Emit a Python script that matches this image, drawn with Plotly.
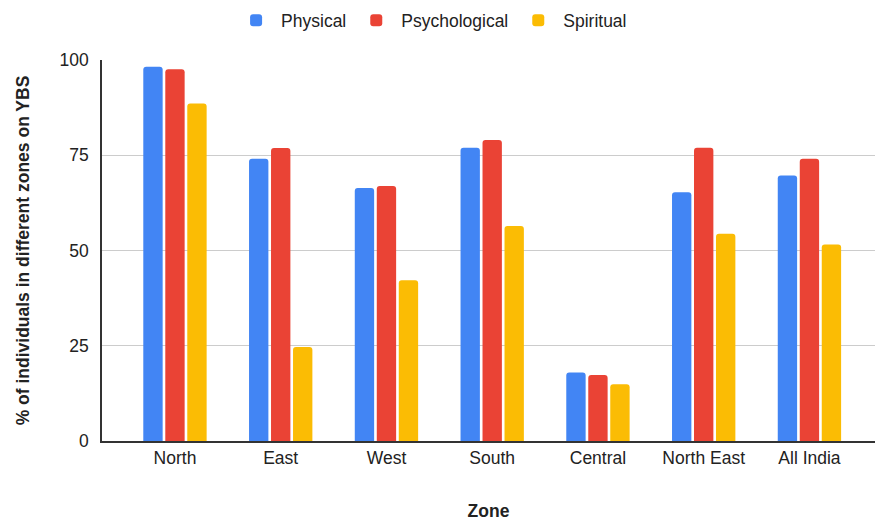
import plotly.graph_objects as go

zones = ["North", "East", "West", "South", "Central", "North East", "All India"]
physical = [98.2, 74.1, 66.4, 77.0, 18.0, 65.3, 69.7]
psychological = [97.6, 76.9, 66.9, 79.0, 17.3, 77.0, 74.1]
spiritual = [88.6, 24.7, 42.2, 56.4, 14.9, 54.4, 51.6]

series = [
    ("Physical", physical, "#4285F4"),
    ("Psychological", psychological, "#EA4335"),
    ("Spiritual", spiritual, "#FBBC04"),
]

font_family = "Liberation Sans, Arial, sans-serif"
fs = 17.5

fig = go.Figure()
for name, vals, color in series:
    fig.add_trace(go.Bar(
        x=zones, y=vals, name=name,
        marker=dict(color=color, line=dict(width=0), cornerradius=3),
    ))

fig.update_layout(
    width=877, height=522,
    margin=dict(l=102, r=2, t=57, b=81),
    paper_bgcolor="white", plot_bgcolor="white",
    barmode="group", bargap=0.376, bargroupgap=0.12,
    font=dict(family=font_family, size=fs, color="#222222"),
    legend=dict(
        orientation="h", x=0.167, xanchor="left", y=1.104, yanchor="middle",
        font=dict(size=fs, color="#222222"), itemwidth=40,
    ),
    xaxis=dict(
        range=[-0.69, 6.62],
        showline=True, linecolor="#333333", linewidth=1.5,
        showgrid=False, ticks="", tickfont=dict(size=fs),
        title=dict(text="Zone", font=dict(size=fs, weight="bold"), standoff=38),
    ),
    yaxis=dict(
        range=[0, 100], tickvals=[0, 25, 50, 75, 100],
        showline=True, linecolor="#333333", linewidth=1.5,
        showgrid=True, gridcolor="#cccccc", gridwidth=1,
        zeroline=False, ticks="", ticklabelstandoff=8, tickfont=dict(size=fs),
        title=dict(text="% of individuals in different zones on YBS",
                   font=dict(size=fs, weight="bold"), standoff=25),
    ),
)

fig.write_html("out.html")
